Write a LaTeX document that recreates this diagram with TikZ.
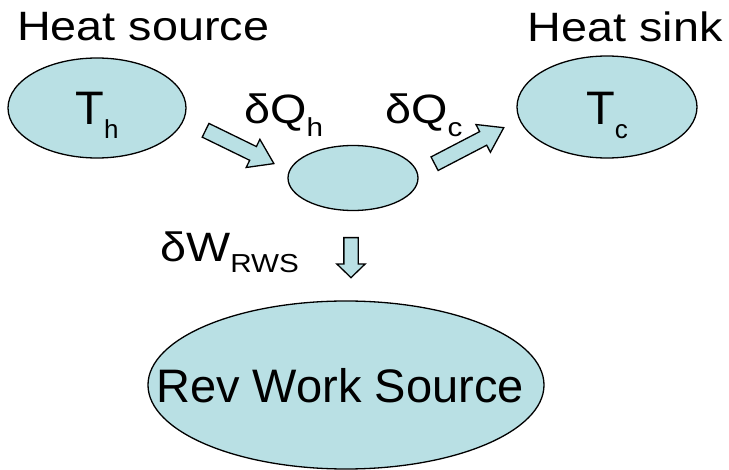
\documentclass[tikz,border=0pt]{standalone}
\usepackage{fontspec}
\setmainfont{Liberation Sans}
\usetikzlibrary{shapes.geometric,shapes.arrows}
\definecolor{ellfill}{RGB}{185,224,228}
% lowered index, as the slide sets it
\newcommand\lowtxt[2][13pt]{\raisebox{-#1}{\fontsize{26}{28}\selectfont #2}}

\begin{document}
\begin{tikzpicture}[x=1pt, y=-1pt,
    res/.style={ellipse, draw, line width=1.3pt, fill=ellfill, inner sep=0pt},
    lbl/.style={font=\fontsize{41}{48}\selectfont, inner sep=0pt, xscale=1.14},
    inlbl/.style={font=\fontsize{47}{54}\selectfont, inner sep=0pt},
    blockarr/.style={single arrow, draw, line width=1.3pt, fill=ellfill, inner sep=7pt,
        single arrow head extend=8pt, single arrow tip angle=68, anchor=tail}]
    \useasboundingbox (0,0) rectangle (729,470);
    % Reservoirs
    \node[res, minimum width=178pt, minimum height=100pt] (hot) at (97,108) {};
    \node[res, minimum width=180pt, minimum height=102pt] (cold) at (607,107) {};
    \node[res, minimum width=130pt, minimum height=65pt] (eng) at (353,178) {};
    \node[res, minimum width=396pt, minimum height=168pt] (rws) at (346,385) {};
    \node[inlbl, anchor=base] (thot) at (97,125) {T\lowtxt[14pt]{h}};
    \node[inlbl, anchor=base] (tcold) at (607,125) {T\lowtxt[14pt]{c}};
    \node[inlbl, anchor=base] (trws) at (340,403) {Rev Work Source};
    
    % Heat and work flows
    \node[blockarr, minimum height=76pt, rotate=-26] (qh) at (205,130) {};
    \node[blockarr, minimum height=78pt, rotate=27.5] (qc) at (434,164) {};
    \node[blockarr, minimum height=40pt, rotate=-90, inner sep=6.5pt,
        single arrow head extend=7pt, single arrow tip angle=92] (w) at (351,237) {};
    
    % Labels
    \node[lbl, anchor=base west] (src) at (17,41) {Heat source};
    \node[lbl, anchor=base east] (snk) at (723,42) {Heat sink};
    \node[lbl, anchor=base west] (lqh) at (244,124) {δQ\lowtxt{h}};
    \node[lbl, anchor=base west] (lqc) at (385,124) {δQ\lowtxt{c}};
    \node[lbl, anchor=base west] (lw) at (160,262) {δW\lowtxt[11pt]{RWS}};
\end{tikzpicture}
\end{document}
